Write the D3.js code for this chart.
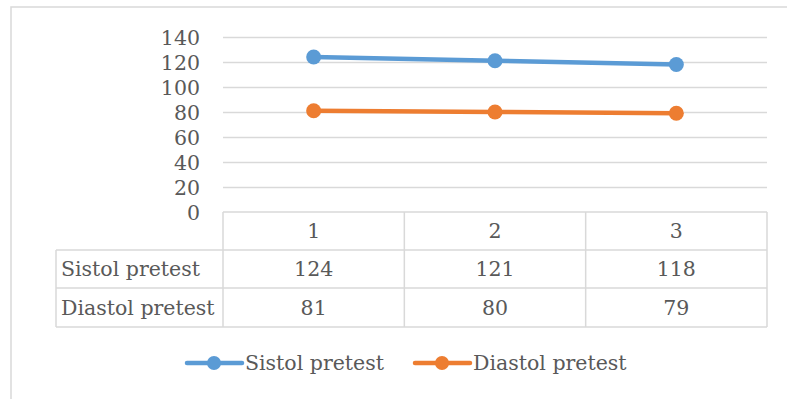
<!DOCTYPE html>
<html><head><meta charset="utf-8">
<script src="https://cdn.jsdelivr.net/npm/d3@7"></script>
<style>
html,body{margin:0;padding:0;background:#fff;}
svg{display:block;}
text{font-family:"DejaVu Serif",serif;fill:#595959;}
</style></head>
<body><svg id="c" width="787" height="399"></svg>
<script>
const categories = ["1","2","3"];
const seriesNames = ["Sistol pretest","Diastol pretest"];
const sistol = [124,121,118];
const diastol = [81,80,79];
const yTicks = [0,20,40,60,80,100,120,140];
const colors = ["#5B9BD5","#ED7D31"];
const series = [sistol, diastol];

(function(){
const svg = d3.select("#c");
const fs = 20.5;
const gridCol = "#d9d9d9";

// chart border
svg.append("rect").attr("x",11).attr("y",7).attr("width",790).attr("height",400)
  .attr("fill","none").attr("stroke",gridCol).attr("stroke-width",1.5);

const pLeft = 223, pRight = 767, pTop = 37, pBottom = 212;
const x = d3.scaleBand().domain(categories).range([pLeft,pRight]).padding(0);
const y = d3.scaleLinear().domain([0,140]).range([pBottom,pTop]);

// gridlines
const grid = svg.append("g").attr("transform",`translate(${pLeft},0)`)
  .call(d3.axisLeft(y).tickValues(yTicks.filter(d=>d>0)).tickSize(-(pRight-pLeft)).tickFormat(""));
grid.select(".domain").remove();
grid.selectAll("line").attr("stroke",gridCol).attr("stroke-width",1.5);

// y labels
const ya = svg.append("g").attr("transform",`translate(200,0)`)
  .call(d3.axisLeft(y).tickValues(yTicks).tickSize(0).tickPadding(0));
ya.select(".domain").remove();
ya.selectAll("text").attr("font-size",fs).attr("fill","#595959")
  .style("font-family","'DejaVu Serif',serif").attr("dy","0.35em");

// data table
const rowH = [212,250,288,327];
const tbl = svg.append("g").attr("stroke",gridCol).attr("stroke-width",1.5);
tbl.append("line").attr("x1",pLeft).attr("x2",pRight).attr("y1",rowH[0]).attr("y2",rowH[0]);
for (let i=1;i<rowH.length;i++){
  tbl.append("line").attr("x1",56).attr("x2",pRight).attr("y1",rowH[i]).attr("y2",rowH[i]);
}
tbl.append("line").attr("x1",56).attr("x2",56).attr("y1",rowH[1]).attr("y2",rowH[3]);
const vx = [pLeft, ...categories.map(c=>x(c)+x.bandwidth())];
vx.forEach(v=>tbl.append("line").attr("x1",v).attr("x2",v).attr("y1",rowH[0]).attr("y2",rowH[3]));

// category labels
svg.append("g").selectAll("text").data(categories).join("text")
  .attr("x",d=>x(d)+x.bandwidth()/2).attr("y",(rowH[0]+rowH[1])/2)
  .attr("dy","0.35em").attr("text-anchor","middle").attr("font-size",fs).text(d=>d);

series.forEach((vals,si)=>{
  const cy = (rowH[si+1]+rowH[si+2])/2;
  svg.append("text").attr("x",61).attr("y",cy).attr("dy","0.35em").attr("font-size",fs).text(seriesNames[si]);
  svg.append("g").selectAll("text").data(vals).join("text")
    .attr("x",(d,i)=>x(categories[i])+x.bandwidth()/2).attr("y",cy)
    .attr("dy","0.35em").attr("text-anchor","middle").attr("font-size",fs).text(d=>d);
});

// lines
const line = d3.line().x((d,i)=>x(categories[i])+x.bandwidth()/2).y(d=>y(d));
series.forEach((vals,si)=>{
  svg.append("path").datum(vals).attr("d",line).attr("fill","none")
    .attr("stroke",colors[si]).attr("stroke-width",4.5).attr("stroke-linecap","round");
  svg.append("g").selectAll("circle").data(vals).join("circle")
    .attr("cx",(d,i)=>x(categories[i])+x.bandwidth()/2).attr("cy",d=>y(d))
    .attr("r",7.5).attr("fill",colors[si]);
});

// legend
const legY = 363;
const legX = [187, 415];
seriesNames.forEach((n,si)=>{
  const g = svg.append("g").attr("transform",`translate(${legX[si]},${legY})`);
  g.append("line").attr("x1",0).attr("x2",55).attr("stroke",colors[si]).attr("stroke-width",4.5).attr("stroke-linecap","round");
  g.append("circle").attr("cx",27).attr("r",7).attr("fill",colors[si]);
  g.append("text").attr("x",58).attr("dy","0.35em").attr("font-size",fs).text(n);
});
})();
</script></body></html>
